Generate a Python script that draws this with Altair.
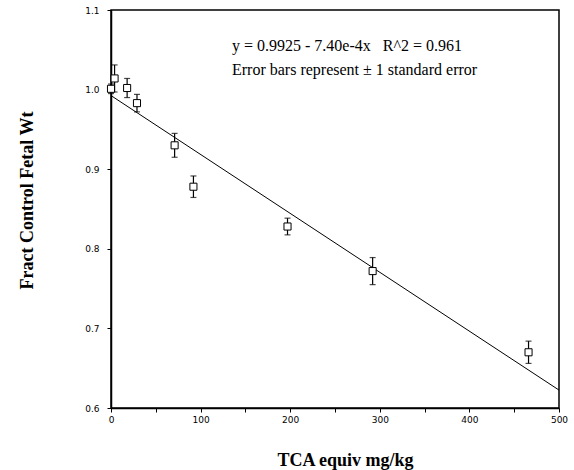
import altair as alt
import pandas as pd

# Data
dose = [0, 4, 18, 29, 71, 92, 197, 292, 466]
fract_wt = [1.001, 1.014, 1.002, 0.983, 0.930, 0.878, 0.828, 0.772, 0.670]
std_err = [0.006, 0.017, 0.012, 0.011, 0.015, 0.0135, 0.0105, 0.017, 0.014]

intercept = 0.9925
slope = -7.40e-4
fit_x = [0, 500]

x_ticks = [0, 50, 100, 150, 200, 250, 300, 350, 400, 450, 500]
y_ticks = [0.6, 0.65, 0.7, 0.75, 0.8, 0.85, 0.9, 0.95, 1.0, 1.05, 1.1]

eq_text = "y = 0.9925 - 7.40e-4x\u00a0\u00a0\u00a0R^2 = 0.961"
note_text = "Error bars represent \u00b1 1 standard error"

df = pd.DataFrame({"dose": dose, "wt": fract_wt, "se": std_err})
df["lo"] = df["wt"] - df["se"]
df["hi"] = df["wt"] + df["se"]
fit = pd.DataFrame({"dose": fit_x})
fit["wt"] = intercept + slope * fit["dose"]

xscale = alt.Scale(domain=[0, 500], nice=False, zero=False)
yscale = alt.Scale(domain=[0.6, 1.1], nice=False, zero=False)

xaxis = alt.Axis(
    values=x_ticks,
    labelExpr="datum.value % 100 == 0 ? datum.label : ''",
    format="d",
    title="TCA equiv mg/kg",
    titleFont="Liberation Serif", titleFontSize=18, titleFontWeight="bold",
    titleY=57, titleX=234, titleAlign="center", titleBaseline="alphabetic", titleColor="black",
    labelFont="DejaVu Sans", labelFontSize=9, labelColor="black",
    tickSize=4, tickColor="black", domainColor="black", domainWidth=1.5,
    grid=False, labelPadding=3, labelFlush=False,
)
yaxis = alt.Axis(
    values=y_ticks,
    labelExpr="abs(datum.value*10 - round(datum.value*10)) < 0.01 ? format(datum.value, '.1f') : ''",
    title="Fract Control Fetal Wt",
    titleFont="Liberation Serif", titleFontSize=18, titleFontWeight="bold",
    titleX=-84, titleY=190, titleAlign="center", titleBaseline="middle", titleColor="black",
    labelFont="DejaVu Sans", labelFontSize=9, labelColor="black",
    tickSize=4, tickColor="black", domainColor="black", domainWidth=1.5,
    grid=False, labelPadding=8, labelFlush=False,
)

base = alt.Chart(df)

line = alt.Chart(fit).mark_line(color="black", strokeWidth=1).encode(
    x=alt.X("dose:Q", scale=xscale, axis=xaxis),
    y=alt.Y("wt:Q", scale=yscale, axis=yaxis),
)

bars = base.mark_rule(color="black", strokeWidth=1.2).encode(
    x=alt.X("dose:Q", scale=xscale),
    y=alt.Y("lo:Q", scale=yscale),
    y2="hi:Q",
)
cap_lo = base.mark_tick(color="black", orient="horizontal", size=6, thickness=1.2).encode(
    x=alt.X("dose:Q", scale=xscale),
    y=alt.Y("lo:Q", scale=yscale),
)
cap_hi = base.mark_tick(color="black", orient="horizontal", size=6, thickness=1.2).encode(
    x=alt.X("dose:Q", scale=xscale),
    y=alt.Y("hi:Q", scale=yscale),
)
pts = base.mark_square(filled=True, fill="white", stroke="black", strokeWidth=1, size=50, opacity=1).encode(
    x=alt.X("dose:Q", scale=xscale),
    y=alt.Y("wt:Q", scale=yscale),
)

txt1 = alt.Chart(pd.DataFrame({"t": [eq_text]})).mark_text(
    font="Liberation Serif", fontSize=16, align="left", baseline="middle", color="black"
).encode(x=alt.value(121), y=alt.value(36), text="t:N")
txt2 = alt.Chart(pd.DataFrame({"t": [note_text]})).mark_text(
    font="Liberation Serif", fontSize=16, align="left", baseline="middle", color="black"
).encode(x=alt.value(121), y=alt.value(60), text="t:N")

chart = alt.layer(line, bars, cap_lo, cap_hi, pts, txt1, txt2).properties(
    width=448, height=398,
    autosize="none",
    padding={"left": 111, "top": 10, "right": 15, "bottom": 62},
    background="white",
).configure_view(stroke="black", strokeWidth=1.5)

chart.save("out.html", embed_options={"renderer": "svg", "actions": False})
